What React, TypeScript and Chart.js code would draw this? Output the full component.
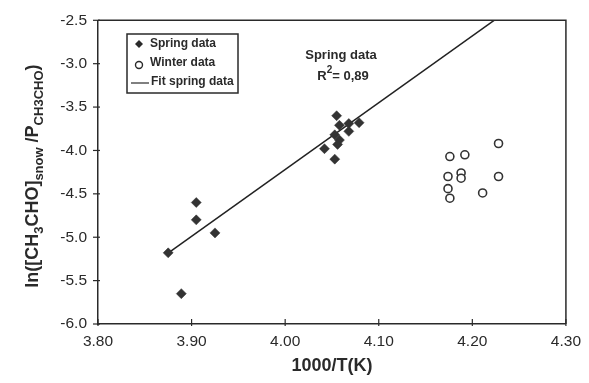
import React, { useEffect, useRef } from "react";
import { Chart, registerables } from "chart.js";

Chart.register(...registerables);

const springX = [3.905, 3.905, 3.925, 3.875, 3.889, 4.055, 4.058, 4.068, 4.079, 4.068, 4.053, 4.058, 4.056, 4.042, 4.053];
const springY = [-4.6, -4.8, -4.95, -5.18, -5.65, -3.6, -3.71, -3.69, -3.68, -3.78, -3.82, -3.88, -3.93, -3.98, -4.1];

const winterX = [4.228, 4.176, 4.192, 4.174, 4.188, 4.188, 4.228, 4.174, 4.176, 4.211];
const winterY = [-3.92, -4.07, -4.05, -4.3, -4.26, -4.32, -4.3, -4.44, -4.55, -4.49];

// linear fit of spring data: y = slope * x + intercept
const fitSlope = 7.7;
const fitIntercept = -35.02;
const fitRange = [3.873, 4.23];

const xTicks = [3.8, 3.9, 4.0, 4.1, 4.2, 4.3];
const yTicks = [-6.0, -5.5, -5.0, -4.5, -4.0, -3.5, -3.0, -2.5];

const legendLabels = ["Spring data", "Winter data", "Fit spring data"];
const annotationTitle = "Spring data";
const annotationR2 = "= 0,89";

const INK = "#2a2a2a";
const FONT = "'Liberation Sans', Arial, sans-serif";

const decorPlugin = {
  id: "decor",
  afterDraw(chart: any) {
    const { ctx, chartArea } = chart;
    const { left, right, top, bottom } = chartArea;
    const xs = chart.scales.x;
    const ys = chart.scales.y;
    ctx.save();
    ctx.strokeStyle = INK;
    ctx.lineWidth = 1.5;
    // frame top & right
    ctx.beginPath();
    ctx.moveTo(left, top);
    ctx.lineTo(right, top);
    ctx.lineTo(right, bottom);
    ctx.stroke();
    // ticks
    ctx.lineWidth = 1.2;
    xTicks.forEach((v) => {
      const px = xs.getPixelForValue(v);
      ctx.beginPath();
      ctx.moveTo(px, bottom - 5);
      ctx.lineTo(px, bottom + 2);
      ctx.stroke();
    });
    yTicks.forEach((v) => {
      const py = ys.getPixelForValue(v);
      ctx.beginPath();
      ctx.moveTo(left - 5, py);
      ctx.lineTo(left + 2, py);
      ctx.stroke();
    });

    // Y title with subscripts
    ctx.fillStyle = INK;
    ctx.textBaseline = "middle";
    ctx.textAlign = "left";
    const big = `bold 18px ${FONT}`;
    const small = `bold 13px ${FONT}`;
    const parts: [string, boolean][] = [
      ["ln([CH", false],
      ["3", true],
      ["CHO]", false],
      ["snow", true],
      [" /P", false],
      ["CH3CHO", true],
      [")", false],
    ];
    let total = 0;
    parts.forEach(([t, s]) => {
      ctx.font = s ? small : big;
      total += ctx.measureText(t).width;
    });
    ctx.save();
    ctx.translate(33, (top + bottom) / 2 + 4);
    ctx.rotate(-Math.PI / 2);
    let cx = -total / 2;
    parts.forEach(([t, s]) => {
      ctx.font = s ? small : big;
      ctx.fillText(t, cx, s ? 6 : 0);
      cx += ctx.measureText(t).width;
    });
    ctx.restore();

    // annotation
    ctx.font = `bold 13px ${FONT}`;
    ctx.textAlign = "center";
    ctx.fillText(annotationTitle, 341, 55);
    const rW = ctx.measureText("R").width;
    ctx.font = `bold 10px ${FONT}`;
    const supW = ctx.measureText("2").width;
    ctx.font = `bold 13px ${FONT}`;
    const eqW = ctx.measureText(annotationR2).width;
    const tw = rW + supW + eqW;
    let ax = 343 - tw / 2;
    ctx.textAlign = "left";
    ctx.fillText("R", ax, 76);
    ax += rW;
    ctx.font = `bold 10px ${FONT}`;
    ctx.fillText("2", ax, 70);
    ax += supW;
    ctx.font = `bold 13px ${FONT}`;
    ctx.fillText(annotationR2, ax, 76);

    // legend box
    const bx = 127, by = 34, bw = 111, bh = 59;
    ctx.lineWidth = 1.5;
    ctx.strokeRect(bx, by, bw, bh);
    const rows = [44, 63, 82];
    ctx.font = `bold 12px ${FONT}`;
    ctx.textAlign = "left";
    legendLabels.forEach((lab, i) => {
      const ry = rows[i];
      const mx = 139;
      if (i === 0) {
        ctx.beginPath();
        ctx.moveTo(mx, ry - 4);
        ctx.lineTo(mx + 4, ry);
        ctx.lineTo(mx, ry + 4);
        ctx.lineTo(mx - 4, ry);
        ctx.closePath();
        ctx.fill();
        ctx.fillText(lab, 150, ry);
      } else if (i === 1) {
        ctx.lineWidth = 1.4;
        ctx.beginPath();
        ctx.arc(mx, ry + 2, 3.5, 0, Math.PI * 2);
        ctx.stroke();
        ctx.fillText(lab, 150, ry);
      } else {
        ctx.lineWidth = 1.2;
        ctx.beginPath();
        ctx.moveTo(131, ry + 1);
        ctx.lineTo(149, ry + 1);
        ctx.stroke();
        ctx.fillText(lab, 151, ry);
      }
    });
    ctx.restore();
  },
};

export default function App() {
  const ref = useRef<HTMLCanvasElement>(null);
  useEffect(() => {
    document.body.style.margin = "0";
    const canvas = ref.current!;
    const fitData = fitRange.map((x) => ({ x, y: fitSlope * x + fitIntercept }));
    const chart = new Chart(canvas, {
      type: "scatter",
      data: {
        datasets: [
          {
            label: "Spring data",
            data: springX.map((x, i) => ({ x, y: springY[i] })),
            pointStyle: "rectRot",
            pointRadius: 5,
            backgroundColor: "#333",
            borderColor: "#333",
            borderWidth: 0.5,
          },
          {
            label: "Winter data",
            data: winterX.map((x, i) => ({ x, y: winterY[i] })),
            pointStyle: "circle",
            pointRadius: 4,
            backgroundColor: "#fff",
            borderColor: "#333",
            borderWidth: 1.6,
          },
          {
            label: "Fit spring data",
            type: "line",
            data: fitData,
            showLine: true,
            pointRadius: 0,
            borderColor: "#222",
            borderWidth: 1.5,
            fill: false,
          } as any,
        ],
      },
      options: {
        animation: false,
        responsive: false,
        maintainAspectRatio: false,
        layout: { padding: { left: 0, right: 18, top: 19, bottom: 0 } },
        plugins: { legend: { display: false }, tooltip: { enabled: false } },
        scales: {
          x: {
            type: "linear",
            min: 3.8,
            max: 4.3,
            afterBuildTicks: (s: any) => {
              s.ticks = xTicks.map((v) => ({ value: v }));
            },
            afterFit: (s: any) => {
              s.height = 59;
            },
            grid: { display: false, drawTicks: false },
            border: { display: true, color: INK, width: 1.5 },
            ticks: {
              padding: 8,
              color: INK,
              font: { family: FONT, size: 15.5 },
              callback: (v: any) => Number(v).toFixed(2),
            },
            title: {
              display: true,
              text: "1000/T(K)",
              color: INK,
              font: { family: FONT, size: 18, weight: "bold" },
              padding: { top: 2, bottom: 6 },
            },
          },
          y: {
            type: "linear",
            min: -6,
            max: -2.5,
            afterBuildTicks: (s: any) => {
              s.ticks = yTicks.map((v) => ({ value: v }));
            },
            afterFit: (s: any) => {
              s.width = 98;
            },
            grid: { display: false, drawTicks: false },
            border: { display: true, color: INK, width: 1.5 },
            ticks: {
              padding: 11,
              color: INK,
              font: { family: FONT, size: 15.5 },
              callback: (v: any) => Number(v).toFixed(1),
            },
          },
        },
      },
      plugins: [decorPlugin],
    });
    return () => chart.destroy();
  }, []);
  return (
    <div style={{ width: 589, height: 383, background: "#fff" }}>
      <canvas ref={ref} width={589} height={383} style={{ display: "block" }} />
    </div>
  );
}
